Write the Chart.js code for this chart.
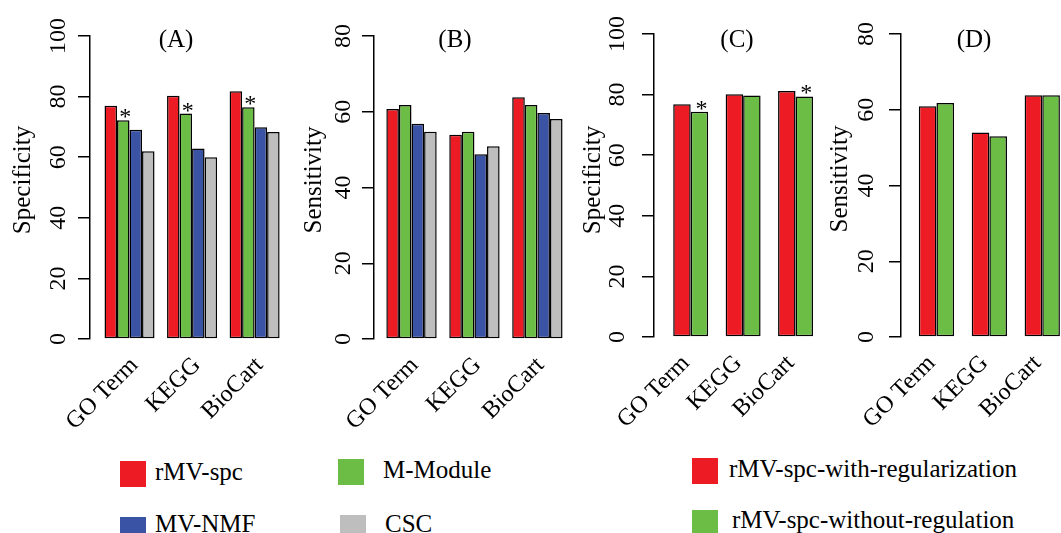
<!DOCTYPE html>
<html>
<head>
<meta charset="utf-8">
<script src="https://cdn.jsdelivr.net/npm/chart.js@4.4.1/dist/chart.umd.min.js"></script>
<style>
  body { margin: 0; width: 1061px; height: 533px; overflow: hidden; background: #fff; position: relative; }
  canvas { position: absolute; top: 0; }
  .box { position: absolute; width: 26px; height: 26px; }
  .lab { position: absolute; font-family: "Liberation Serif", "Times New Roman", serif; font-size: 25px; line-height: 25px; white-space: nowrap; color: #000; }
</style>
</head>
<body>
<canvas id="chartA" width="289" height="440" style="left:0px"></canvas>
<canvas id="chartB" width="281" height="440" style="left:291px"></canvas>
<canvas id="chartC" width="257" height="440" style="left:570px"></canvas>
<canvas id="chartD" width="257" height="440" style="left:817px"></canvas>

<div class="box" style="left:120px;top:461px;background:#ED1C24"></div>
<div class="lab" style="left:155px;top:459px">rMV-spc</div>
<div class="box" style="left:338px;top:459px;background:#6BBD45"></div>
<div class="lab" style="left:383px;top:457px">M-Module</div>
<div class="box" style="left:120px;top:517px;background:#3A53A4"></div>
<div class="lab" style="left:155px;top:511px">MV-NMF</div>
<div class="box" style="left:340px;top:515px;background:#BEBEBE"></div>
<div class="lab" style="left:385px;top:511px">CSC</div>
<div class="box" style="left:692px;top:458px;background:#ED1C24"></div>
<div class="lab" style="left:729px;top:456px">rMV-spc-with-regularization</div>
<div class="box" style="left:692px;top:510px;background:#6BBD45"></div>
<div class="lab" style="left:732px;top:507px">rMV-spc-without-regulation</div>

<script>
// categories and tick labels
const categories = ["GO Term", "KEGG", "BioCart"];
const specTicks = [0, 20, 40, 60, 80, 100];
const sensTicks = [0, 20, 40, 60, 80];

// (A) specificity, four methods
const specRMVspc = [77.0, 80.3, 81.8];
const specMModule = [72.2, 74.4, 76.5];
const specMVNMF = [69.1, 62.9, 69.9];
const specCSC = [62.0, 60.0, 68.3];

// (B) sensitivity, four methods
const sensRMVspc = [60.7, 53.9, 63.8];
const sensMModule = [61.8, 54.7, 61.8];
const sensMVNMF = [56.8, 48.8, 59.7];
const sensCSC = [54.7, 50.9, 58.1];

// (C) specificity, with / without regularization
const specWithReg = [76.8, 80.1, 81.2];
const specWithoutReg = [74.3, 79.7, 79.4];

// (D) sensitivity, with / without regularization
const sensWithReg = [60.9, 54.0, 63.8];
const sensWithoutReg = [61.8, 53.0, 63.8];

// significance stars over the green bars
const sigA = [true, true, true];
const sigC = [true, false, true];

const RED = "#ED1C24", GREEN = "#6BBD45", BLUE = "#3A53A4", GRAY = "#BEBEBE";
const FONT = "Liberation Serif";

// panel letter, rotated y title and stars
const annot = {
  id: "annot",
  afterDatasetsDraw(chart, args, o) {
    const ctx = chart.ctx;
    ctx.save();
    ctx.fillStyle = "#000";
    ctx.textAlign = "center";
    ctx.textBaseline = "middle";
    ctx.font = "25px '" + FONT + "'";
    ctx.fillText(o.panel, o.panelX, o.panelY);

    ctx.save();
    ctx.translate(o.titleX, o.titleY);
    ctx.rotate(-Math.PI / 2);
    ctx.fillText(o.title, 0, 0);
    ctx.restore();

    if (o.stars) {
      const meta = chart.getDatasetMeta(1);
      ctx.font = "24px '" + FONT + "'";
      ctx.textBaseline = "alphabetic";
      o.stars.forEach((s, i) => {
        if (!s) return;
        const bar = meta.data[i];
        ctx.fillText("*", bar.x + 2, bar.y + 4);
      });
    }
    ctx.restore();
  }
};

function makePanel(id, cfg) {
  const ctx = document.getElementById(id);
  new Chart(ctx, {
    type: "bar",
    data: {
      datasets: cfg.series.map(s => ({
        label: s.name,
        data: s.values.map((v, i) => ({ x: i, y: v })),
        backgroundColor: s.color,
        borderColor: "#000",
        borderWidth: 1.5,
        borderSkipped: false,
        categoryPercentage: cfg.groupFrac,
        barPercentage: 1
      }))
    },
    options: {
      responsive: false,
      animation: false,
      layout: { padding: { top: cfg.top, left: 0, right: 0, bottom: 0 } },
      plugins: {
        legend: { display: false },
        tooltip: { enabled: false },
        annot: cfg.annot
      },
      scales: {
        x: {
          type: "linear",
          offset: false,
          bounds: "data",
          min: cfg.xmin,
          max: cfg.xmax,
          grid: { display: false, offset: false },
          border: { display: false },
          // label anchors sit slightly off the group centres, as in the original
          afterBuildTicks: s => { s.ticks = categories.map((c, i) => ({ value: i + cfg.labelShift })); },
          ticks: {
            autoSkip: false,
            minRotation: 45,
            maxRotation: 45,
            padding: 6,
            color: "#000",
            font: { family: FONT, size: 24, lineHeight: 1.0 },
            callback: (v, i) => categories[i]
          },
          afterFit: s => { s.height = 440 - cfg.bottom; s.paddingLeft = 0; s.paddingRight = 0; }
        },
        y: {
          min: 0,
          max: cfg.yTicks[cfg.yTicks.length - 1],
          border: { color: "#000", width: 1.5 },
          grid: { drawOnChartArea: false, color: "#000", lineWidth: 1.5, tickLength: 12 },
          afterBuildTicks: s => { s.ticks = cfg.yTicks.map(v => ({ value: v })); },
          ticks: {
            minRotation: 90,
            maxRotation: 90,
            crossAlign: "center",
            padding: cfg.tickPad,
            color: "#000",
            font: { family: FONT, size: 24 }
          },
          afterFit: s => { s.width = cfg.yWidth; s.paddingTop = 0; s.paddingBottom = 0; }
        }
      }
    },
    plugins: [annot]
  });
}

makePanel("chartA", {
  series: [
    { name: "rMV-spc", values: specRMVspc, color: RED },
    { name: "M-Module", values: specMModule, color: GREEN },
    { name: "MV-NMF", values: specMVNMF, color: BLUE },
    { name: "CSC", values: specCSC, color: GRAY }
  ],
  yTicks: specTicks, groupFrac: 0.8, labelShift: 0.08,
  xmin: -0.632, xmax: 2.55, top: 36, bottom: 339, yWidth: 90, tickPad: 1,
  annot: { panel: "(A)", panelX: 176, panelY: 40, title: "Specificity", titleX: 23, titleY: 180, stars: sigA }
});

makePanel("chartB", {
  series: [
    { name: "rMV-spc", values: sensRMVspc, color: RED },
    { name: "M-Module", values: sensMModule, color: GREEN },
    { name: "MV-NMF", values: sensMVNMF, color: BLUE },
    { name: "CSC", values: sensCSC, color: GRAY }
  ],
  yTicks: sensTicks, groupFrac: 0.8, labelShift: 0.05,
  xmin: -0.596, xmax: 2.55, top: 36, bottom: 339, yWidth: 83, tickPad: 6,
  annot: { panel: "(B)", panelX: 164, panelY: 40, title: "Sensitivity", titleX: 23, titleY: 180 }
});

makePanel("chartC", {
  series: [
    { name: "rMV-spc-with-regularization", values: specWithReg, color: RED },
    { name: "rMV-spc-without-regulation", values: specWithoutReg, color: GREEN }
  ],
  yTicks: specTicks, groupFrac: 0.667, labelShift: -0.09,
  xmin: -0.70, xmax: 2.6, top: 34, bottom: 337, yWidth: 84, tickPad: 6.5,
  annot: { panel: "(C)", panelX: 167, panelY: 40, title: "Specificity", titleX: 23, titleY: 180, stars: sigC }
});

makePanel("chartD", {
  series: [
    { name: "rMV-spc-with-regularization", values: sensWithReg, color: RED },
    { name: "rMV-spc-without-regulation", values: sensWithoutReg, color: GREEN }
  ],
  yTicks: sensTicks, groupFrac: 0.667, labelShift: -0.09,
  xmin: -0.67, xmax: 2.6, top: 34, bottom: 337, yWidth: 84, tickPad: 10,
  annot: { panel: "(D)", panelX: 157, panelY: 40, title: "Sensitivity", titleX: 23, titleY: 179 }
});
</script>
</body>
</html>
